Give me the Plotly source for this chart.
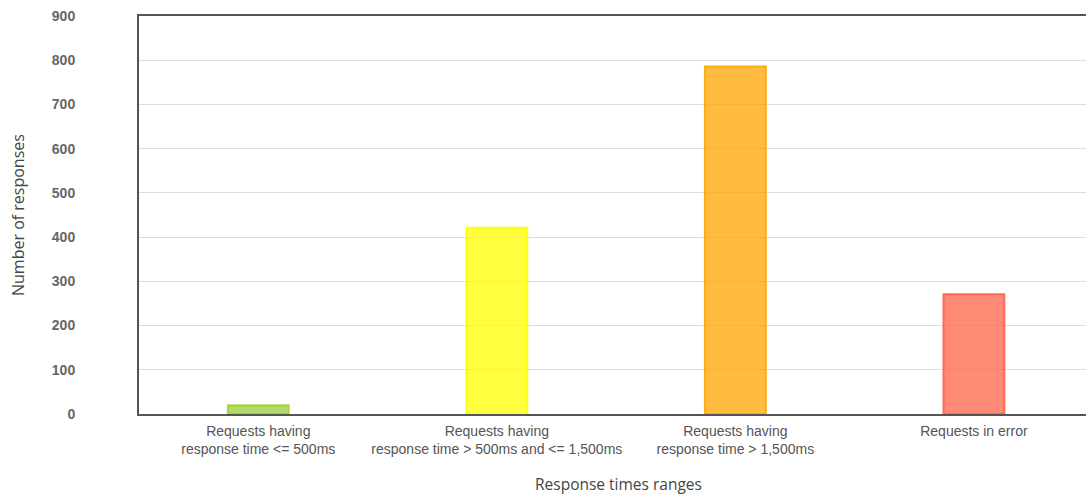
import plotly.graph_objects as go

categories = [
    "Requests having<br>response time <= 500ms",
    "Requests having<br>response time > 500ms and <= 1,500ms",
    "Requests having<br>response time > 1,500ms",
    "Requests in error",
]
values = [20, 421, 786, 271]
fill_colors = ["rgba(154,205,50,0.75)", "rgba(255,255,0,0.75)", "rgba(255,165,0,0.75)", "rgba(255,99,71,0.75)"]
line_colors = ["rgba(154,205,50,0.8)", "rgba(255,255,0,0.9)", "rgba(255,165,0,0.9)", "rgba(255,99,71,0.9)"]
y_ticks = [0, 100, 200, 300, 400, 500, 600, 700, 800, 900]
x_title = "Response times ranges"
y_title = "Number of responses"

fig = go.Figure(
    go.Bar(
        x=categories,
        y=values,
        width=0.255,
        marker=dict(color=fill_colors, line=dict(color=line_colors, width=2)),
    )
)

W, H = 1086, 494
L, R, T, B = 139, 0, 16, 80
pw, ph = W - L - R, H - T - B

fig.update_layout(
    width=W,
    height=H,
    margin=dict(l=L, r=R, t=T, b=B),
    paper_bgcolor="white",
    plot_bgcolor="white",
    showlegend=False,
    font=dict(family="Liberation Sans, Arial, sans-serif", color="#555"),
    annotations=[
        dict(
            text=x_title, xref="paper", yref="paper",
            x=(618 - L) / pw, y=-(484 - (H - B)) / ph,
            xanchor="center", yanchor="middle", showarrow=False,
            font=dict(size=15.5, color="#444", family="Open Sans, sans-serif"),
        ),
        dict(
            text=y_title, xref="paper", yref="paper",
            x=(18 - L) / pw, y=0.5, textangle=-90,
            xanchor="center", yanchor="middle", showarrow=False,
            font=dict(size=16, color="#444", family="Open Sans, sans-serif"),
        ),
    ],
)

fig.update_xaxes(
    range=[-0.5, 3.47],
    showline=True,
    linecolor="#555",
    linewidth=2,
    mirror=True,
    showgrid=False,
    ticks="",
    ticklabelstandoff=3,
    tickfont=dict(size=14, color="#555", family="Liberation Sans, Arial, sans-serif"),
)

fig.update_yaxes(
    range=[0, 900],
    tickvals=y_ticks,
    showline=True,
    linecolor="#555",
    linewidth=2,
    showgrid=True,
    gridcolor="#dddddd",
    gridwidth=1,
    zeroline=False,
    ticks="",
    ticklabelstandoff=59,
    tickfont=dict(size=14, color="#666", family="Liberation Sans, Arial, sans-serif", weight="bold"),
)

fig.write_html("out.html")
